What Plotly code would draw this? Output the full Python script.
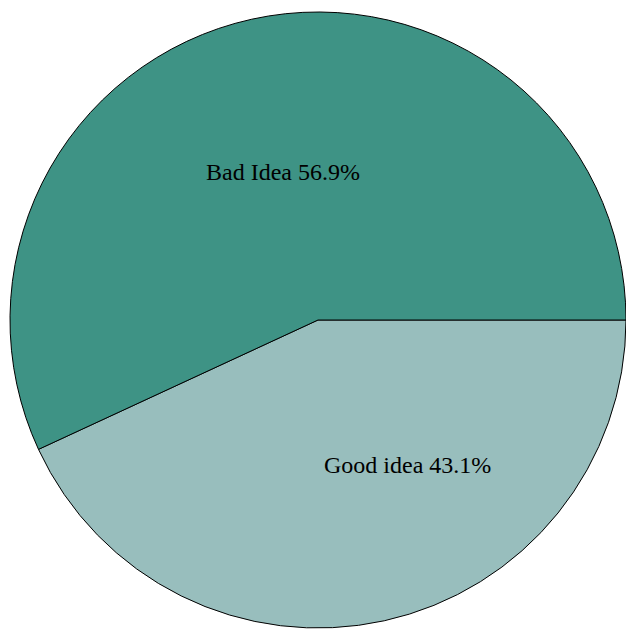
import plotly.graph_objects as go

# Survey responses (listed in drawing order: clockwise from 3 o'clock)
labels = ["Good idea", "Bad Idea"]
shares = [43.1, 56.9]
slice_colors = ["#98bebd", "#3e9385"]

# Where each slice label sits, in paper fractions
label_x = [0.646, 0.443]
label_y = [0.267, 0.738]

fig = go.Figure(
    go.Pie(
        labels=labels,
        values=shares,
        sort=False,
        direction="clockwise",
        rotation=90,
        marker=dict(colors=slice_colors, line=dict(color="black", width=1)),
        textinfo="none",
        hoverinfo="label+percent",
    )
)

total = sum(shares)
for name, val, x, y in zip(labels, shares, label_x, label_y):
    fig.add_annotation(
        x=x,
        y=y,
        xref="paper",
        yref="paper",
        xanchor="center",
        yanchor="middle",
        showarrow=False,
        text=f"{name} {100 * val / total:.1f}%",
        font=dict(family="Liberation Serif", size=24, color="black"),
    )

fig.update_layout(
    width=626,
    height=631,
    margin=dict(l=10, r=0, t=9, b=0),
    showlegend=False,
    paper_bgcolor="white",
    plot_bgcolor="white",
)

fig.write_html("out.html")
